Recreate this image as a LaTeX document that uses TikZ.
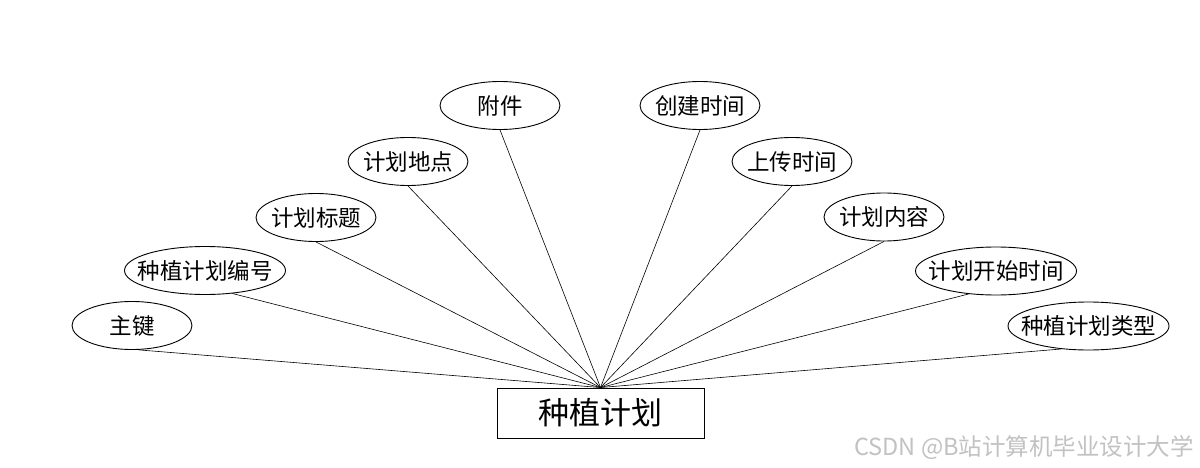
\documentclass[tikz,border=0pt]{standalone}
\usepackage{fontspec}
\setmainfont{Noto Sans CJK SC}
\newfontfamily\cjk{Noto Sans CJK SC}
\usetikzlibrary{shapes.geometric}
\newcommand{\zb}[1]{\makebox[0pt]{#1}}
\tikzset{
  attr/.style={draw=black, line width=0.9pt, ellipse, minimum width=120pt, minimum height=48pt, inner sep=0pt, font=\cjk\fontsize{22.5}{22.5}\selectfont},
  wattr/.style={attr, minimum width=161pt},
  entity/.style={draw=black, line width=0.9pt, rectangle, minimum width=207pt, minimum height=50pt, inner sep=0pt, font=\cjk\fontsize{31}{31}\selectfont},
  link/.style={draw=black, line width=0.6pt}
}
\begin{document}
\begin{tikzpicture}[x=1pt,y=-1pt]
\useasboundingbox[fill=white] (0,0) rectangle (1200,468);
\node[entity] (e) at (600.5,413) {\zb{种植计划}};
\node[attr]  (a1)  at (132,325.5) {\zb{主键}};
\node[wattr] (a2)  at (205,270.5) {\zb{种植计划编号}};
\node[attr]  (a3)  at (316,217.5) {\zb{计划标题}};
\node[attr]  (a4)  at (408,161.5) {\zb{计划地点}};
\node[attr]  (a5)  at (500,105.5) {\zb{附件}};
\node[attr]  (a6)  at (700,105.5) {\zb{创建时间}};
\node[attr]  (a7)  at (792,161.5) {\zb{上传时间}};
\node[attr]  (a8)  at (884,217) {\zb{计划内容}};
\node[wattr] (a9)  at (996,271) {\zb{计划开始时间}};
\node[wattr] (a10) at (1088.5,326) {\zb{种植计划类型}};
\draw[link] (a1.-76) -- (e.north);
\draw[link] (a2.-40) -- (e.north);
\foreach \n in {a3,a4,a5,a6,a7,a8}{
  \draw[link] (\n.south) -- (e.north);
}
\draw[link] (a9.-140) -- (e.north);
\draw[link] (a10.-140) -- (e.north);
\node[anchor=east, text=black!24, font=\cjk\fontsize{23.5}{23.5}\selectfont, inner sep=0pt] (wm) at (1194,448) {CSDN @B站计算机毕业设计大学};
\end{tikzpicture}
\end{document}
